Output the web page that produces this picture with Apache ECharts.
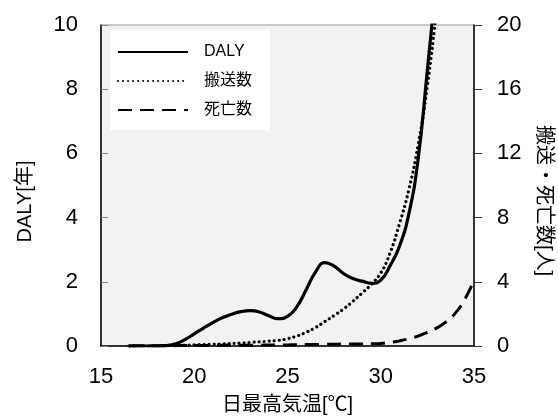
<!DOCTYPE html>
<html>
<head>
<meta charset="utf-8">
<script src="https://cdn.jsdelivr.net/npm/echarts@6/dist/echarts.min.js"></script>
<style>
html,body{margin:0;padding:0;background:#fff;}
#chart{width:558px;height:416px;}
</style>
</head>
<body>
<div id="chart"></div>
<script>
const temps = [16.5,17,17.5,18,18.5,19,19.5,20,20.5,21,21.5,22,22.5,23,23.5,24,24.5,25,25.5,26,26.5,27,27.5,28,28.5,29,29.5,30,30.5,31,31.5,32,32.5,33,33.5,34,34.5,35];
const daly = [0,0,0,0,0.01,0.07,0.2,0.38,0.56,0.73,0.88,0.99,1.07,1.1,1.06,0.94,0.85,0.92,1.22,1.75,2.3,2.6,2.49,2.26,2.1,2.02,1.95,2.05,2.5,3.1,4.1,5.8,8.6,11.5,null,null,null,null];
const transport = [0,0.01,0.01,0.02,0.03,0.04,0.05,0.07,0.09,0.11,0.13,0.16,0.19,0.22,0.26,0.3,0.35,0.45,0.62,0.85,1.15,1.52,1.9,2.3,2.78,3.3,3.85,4.55,5.8,7.6,9.7,12.5,16.2,21,null,null,null,null];
const deaths = [0,0.01,0.01,0.02,0.02,0.02,0.03,0.03,0.03,0.04,0.04,0.04,0.05,0.05,0.05,0.06,0.06,0.07,0.08,0.09,0.09,0.1,0.11,0.12,0.12,0.13,0.14,0.16,0.22,0.32,0.45,0.62,0.85,1.12,1.5,2.05,2.9,4.1];
const seriesNames = ['DALY','搬送数','死亡数'];
const xTicks = {min:15,max:35,interval:5};
const leftTicks = {min:0,max:10,interval:2};
const rightTicks = {min:0,max:20,interval:4};
const xName = '日最高気温[℃]';
const leftName = 'DALY[年]';
const rightName = '搬送・死亡数[人]';

const FONT = "'Liberation Sans', Arial, 'Noto Sans CJK JP', sans-serif";
const pair = (xs, ys) => xs.map((x,i)=>[x, ys[i]]);

const chart = echarts.init(document.getElementById('chart'), null, {renderer:'canvas'});
chart.setOption({
  animation:false,
  backgroundColor:'#ffffff',
  textStyle:{fontFamily:FONT,color:'#000'},
  grid:{left:101,right:84,top:25,bottom:70,containLabel:false,outerBoundsMode:'none',show:true,backgroundColor:'#f2f2f2',borderColor:'#999',borderWidth:1},
  legend:{
    orient:'vertical',left:110,top:30,
    backgroundColor:'#ffffff',
    padding:[14,18,12,7],
    itemWidth:70,itemHeight:14,itemGap:13,
    itemStyle:{opacity:0},
    textStyle:{fontFamily:FONT,fontSize:16,color:'#000',padding:[0,0,0,11]},
    data:seriesNames
  },
  xAxis:{
    type:'value',min:xTicks.min,max:xTicks.max,interval:xTicks.interval,
    name:xName,nameLocation:'middle',nameGap:49,
    nameTextStyle:{fontFamily:FONT,fontSize:20,color:'#000'},
    axisLine:{show:true,onZero:false,lineStyle:{color:'#000',width:1.5}},
    axisTick:{show:false},
    splitLine:{show:false},
    axisLabel:{fontFamily:FONT,fontSize:22,color:'#000',margin:20}
  },
  yAxis:[{
    type:'value',min:leftTicks.min,max:leftTicks.max,interval:leftTicks.interval,
    name:leftName,nameLocation:'middle',nameGap:66,
    nameTextStyle:{fontFamily:FONT,fontSize:20,color:'#000',padding:[0,32,0,0]},
    axisLine:{show:true,lineStyle:{color:'#000',width:1.5}},
    axisTick:{show:true,inside:true,length:7,lineStyle:{color:'#808080'}},
    splitLine:{show:false},
    axisLabel:{fontFamily:FONT,fontSize:22,color:'#000',margin:23}
  },{
    type:'value',min:rightTicks.min,max:rightTicks.max,interval:rightTicks.interval,
    position:'right',
    name:rightName,nameLocation:'middle',nameGap:60,nameRotate:-90,
    nameTextStyle:{fontFamily:FONT,fontSize:20,color:'#000',padding:[0,0,0,30]},
    axisLine:{show:true,lineStyle:{color:'#000',width:1.5}},
    axisTick:{show:true,inside:false,length:8,lineStyle:{color:'#333'}},
    splitLine:{show:false},
    axisLabel:{fontFamily:FONT,fontSize:22,color:'#000',margin:23}
  }],
  series:[{
    name:seriesNames[0],type:'line',yAxisIndex:0,data:pair(temps,daly),
    smooth:0.5,showSymbol:false,symbol:'none',clip:true,
    lineStyle:{color:'#000',width:3.2,type:'solid'},itemStyle:{color:'#000'}
  },{
    name:seriesNames[1],type:'line',yAxisIndex:1,data:pair(temps,transport),
    smooth:0.5,showSymbol:false,symbol:'none',clip:true,
    lineStyle:{color:'#000',width:3.2,type:[0.01,5],cap:'round'},itemStyle:{color:'#000'}
  },{
    name:seriesNames[2],type:'line',yAxisIndex:1,data:pair(temps,deaths),
    smooth:0.5,showSymbol:false,symbol:'none',clip:true,
    lineStyle:{color:'#000',width:3,type:[14,8]},itemStyle:{color:'#000'}
  }]
});
</script>
</body>
</html>
